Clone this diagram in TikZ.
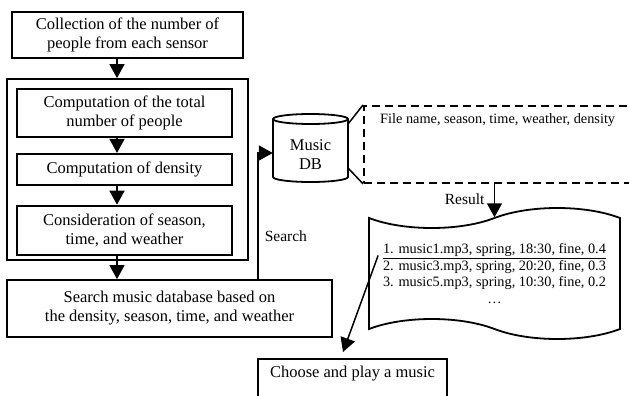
\documentclass[tikz,border=0pt]{standalone}
\usepackage{fontspec}
\setmainfont{Liberation Serif}
\usetikzlibrary{shapes.symbols,arrows.meta,positioning,calc}

\begin{document}
\begin{tikzpicture}[
    x=1pt, y=-1pt,
    box/.style={
        rectangle,
        draw,
        line width=1.8pt,
        align=center,
        inner sep=2pt,
        font=\fontsize{16.5}{19}\selectfont
    },
    dashbox/.style={rectangle, draw, line width=1.8pt, dash pattern=on 8pt off 5pt},
    doc/.style={
        tape,
        draw,
        line width=1.8pt,
        tape bend top=in and out,
        tape bend bottom=out and in,
        tape bend height=20pt,
        align=center,
        font=\fontsize{14.3}{16.5}\selectfont
    },
    arrow/.style={-{Triangle[length=14pt,width=15pt]}, line width=1.5pt},
    lbl/.style={font=\fontsize{15.5}{18}\selectfont}
]
    \useasboundingbox (0,0) rectangle (629,396);
    \clip (0,0) rectangle (629,396);

    % Left flow
    \node[box, minimum width=231pt, minimum height=46pt] (collect) at (127.5,35) {Collection of the number of\\people from each sensor};
    \node[box, minimum width=241pt, minimum height=181pt] (group) at (127.5,169.5) {};
    \node[box, minimum width=215pt, minimum height=48pt] (total) at (124.5,113) {Computation of the total\\number of people};
    \node[box, minimum width=215pt, minimum height=31pt, below=15pt of total] (density) {Computation of density};
    \node[box, minimum width=215pt, minimum height=49pt, below=19pt of density] (season) {Consideration of season,\\time, and weather};
    \node[box, minimum width=325pt, minimum height=57pt] (search) at (169.5,308.5) {Search music database based on\\the density, season, time, and weather};

    \coordinate (spine) at (117,0);
    \draw[arrow] (collect.south -| spine) -- (group.north -| spine);
    \draw[arrow] (total.south -| spine) -- (density.north -| spine);
    \draw[arrow] (density.south -| spine) -- (season.north -| spine);
    \draw[arrow] (season.south -| spine) -- (search.north -| spine);

    % Music DB
    \node[minimum width=75pt, inner sep=0pt, align=center, font=\fontsize{16.5}{19}\selectfont] (db) at (310.5,155) {Music\\DB};
    \draw[line width=1.8pt] ($(db.center)+(-37.5,-36)$) -- ($(db.center)+(-37.5,22)$)
        arc[start angle=180, end angle=360, x radius=37.5pt, y radius=5pt] -- ($(db.center)+(37.5,-36)$);
    \draw[line width=1.8pt] ($(db.center)+(0,-36)$) ellipse[x radius=37.5pt, y radius=5pt];

    \coordinate (dbline) at (258,0);
    \draw[arrow] (search.north -| dbline) |- node[lbl, pos=0.17, right, inner sep=6pt] {Search} ([yshift=2pt]db.west);

    % Record fields
    \node[dashbox, minimum width=340pt, minimum height=77pt, anchor=north west] (fields) at (363,105) {};
    \node[anchor=west, inner sep=0pt, font=\fontsize{14.3}{16.5}\selectfont] (fieldnames) at ($(fields.north west)+(17,15)$) {File name, season, time, weather, density};
    \draw[line width=1.5pt] ($(db.center)+(37.5,-31)$) -- (fields.north west);
    \draw[line width=1.5pt] ($(db.center)+(37.5,13)$) -- (fields.south west);

    % Result list
    \node[doc, minimum width=251pt, minimum height=131pt] (playlist) at (494.5,273.5) {
        \underline{1. music1.mp3, spring, 18:30, fine, 0.4}\\
        2. music3.mp3, spring, 20:20, fine, 0.3\\
        3. music5.mp3, spring, 10:30, fine, 0.2\\
        \ldots
    };
    \draw[arrow] (fields.south -| playlist.north) -- node[lbl, left=6pt, pos=0.45] {Result} (playlist.north);

    \node[box, text height=17pt, text depth=24pt, minimum width=189pt, anchor=north] (choose) at (352.5,358) {Choose and play a music};
    \draw[arrow] ($(playlist.west)+(10,-18)$) -- ($(choose.north)+(-9.5,-6)$);
\end{tikzpicture}
\end{document}
